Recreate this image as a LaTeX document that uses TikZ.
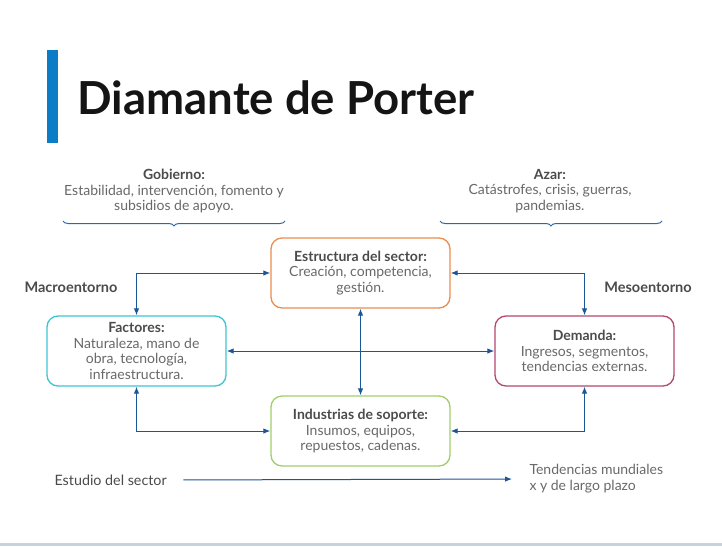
\documentclass[tikz,border=0pt]{standalone}
\usepackage{fontspec}
\setmainfont{Lato}[Ligatures=NoCommon]
\usetikzlibrary{arrows.meta,decorations.pathreplacing}

\definecolor{barblue}{RGB}{11,125,198}
\definecolor{linkblue}{RGB}{27,86,150}
\definecolor{bracecol}{RGB}{46,104,160}
\definecolor{headgray}{RGB}{75,75,75}
\definecolor{bodygray}{RGB}{105,105,105}
\definecolor{estcol}{RGB}{236,140,78}
\definecolor{faccol}{RGB}{60,198,212}
\definecolor{demcol}{RGB}{181,72,112}
\definecolor{indcol}{RGB}{160,206,106}
\definecolor{edgecol}{RGB}{200,210,220}

\newcommand{\bodysize}{\fontsize{14}{15.8}\selectfont}

\begin{document}
\begin{tikzpicture}[x=1pt,y=-1pt,
    factorbox/.style={draw, line width=1.3pt, rounded corners=11pt,
        minimum width=179pt, minimum height=70pt, align=center,
        text=bodygray, font=\bodysize, inner sep=2pt},
    link/.style={draw=linkblue, line width=1pt, {Latex[length=7pt,width=5.5pt]}-{Latex[length=7pt,width=5.5pt]}},
    brace/.style={draw=bracecol, line width=1pt,
        decorate, decoration={brace, mirror, amplitude=5pt}},
    note/.style={align=center, text=bodygray, font=\bodysize},
    side/.style={text=headgray, font=\fontsize{14.5}{16}\selectfont\bfseries}]
  \useasboundingbox (0,0) rectangle (722,546);
  \fill[white] (0,0) rectangle (722,546);
  \fill[edgecol] (0,543) rectangle (722,546);

  % title
  \fill[barblue] (47,50) rectangle (58,143);
  \node[anchor=west, font=\fontsize{45.5}{52}\selectfont\bfseries, text=black!92] (title) at (74,98) {Diamante de Porter};

  % government and chance
  \node[note] (gob) at (174,191) {\textcolor{headgray}{\bfseries Gobierno:}\\Estabilidad, intervención, fomento y\\subsidios de apoyo.};
  \node[note] (azar) at (550,191) {\textcolor{headgray}{\bfseries Azar:}\\Catástrofes, crisis, guerras,\\pandemias.};
  \coordinate (gobL) at (63,221);
  \coordinate (gobR) at (285,221);
  \coordinate (azarL) at (440,221);
  \coordinate (azarR) at (662,221);
  \draw[brace] (gobL) -- (gobR);
  \draw[brace] (azarL) -- (azarR);

  % the four factors
  \node[factorbox, draw=estcol] (est) at (360.5,273) {\textcolor{headgray}{\bfseries Estructura del sector:}\\Creación, competencia,\\gestión.};
  \node[factorbox, draw=faccol] (fac) at (136.5,351) {\textcolor{headgray}{\bfseries Factores:}\\Naturaleza, mano de\\obra, tecnología,\\infraestructura.};
  \node[factorbox, draw=demcol] (dem) at (584.5,351) {\textcolor{headgray}{\bfseries Demanda:}\\Ingresos, segmentos,\\tendencias externas.};
  \node[factorbox, draw=indcol] (ind) at (360.5,431) {\textcolor{headgray}{\bfseries Industrias de soporte:}\\Insumos, equipos,\\repuestos, cadenas.};

  \node[side] (macro) at (71,287) {Macroentorno};
  \node[side] (meso) at (648,287) {Mesoentorno};

  \draw[link] (fac.north) |- (est.west);
  \draw[link] (dem.north) |- (est.east);
  \draw[link] (fac.south) |- (ind.west);
  \draw[link] (dem.south) |- (ind.east);
  \draw[link] (est.south) -- (ind.north);
  \draw[link] (fac.east) -- (dem.west);

  % bottom line
  \node[anchor=west, text=headgray, font=\fontsize{14.3}{16}\selectfont] (estudio) at (51,480) {Estudio del sector};
  \node[anchor=west, align=left, text=bodygray, font=\bodysize] (tend) at (526,479) {Tendencias mundiales\\x y de largo plazo};
  \draw[draw=linkblue, line width=1pt, -{Latex[length=7pt,width=5.5pt]}, shorten <=13pt, shorten >=14pt] (estudio.east) -- (tend.west);
\end{tikzpicture}
\end{document}
